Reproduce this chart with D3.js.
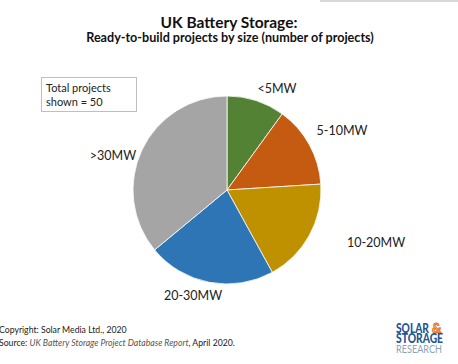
<!DOCTYPE html>
<html><head><meta charset="utf-8">
<script src="https://cdn.jsdelivr.net/npm/d3@7"></script>
<style>body{margin:0;background:#fff}svg{display:block}text{font-family:Lato,"Open Sans",sans-serif}</style>
</head><body>
<svg id="c" width="458" height="364"></svg>
<script>
const categories = ["<5MW","5-10MW","10-20MW","20-30MW",">30MW"];
const values = [5,7,9,11,18];
const colors = ["#548235","#C55A11","#BF9000","#2E75B6","#A5A5A5"];
const labelPos = [[277,89],[342,131],[376,243],[193,296],[113,156]];

const svg = d3.select("#c");
svg.append("rect").attr("x",320).attr("y",0).attr("width",138).attr("height",2).attr("fill","#d8d8d8");

svg.append("text").attr("x",229).attr("y",28).attr("text-anchor","middle")
  .attr("font-size",15.5).attr("font-weight","bold").attr("fill","#111").text("UK Battery Storage:");
svg.append("text").attr("x",230).attr("y",42).attr("text-anchor","middle")
  .attr("font-size",12.6).attr("font-weight","bold").attr("fill","#111").text("Ready-to-build projects by size (number of projects)");

const cx=227, cy=190, r=94;
const pie = d3.pie().sort(null).value(d=>d)(values);
const arc = d3.arc().innerRadius(0).outerRadius(r);
const g = svg.append("g").attr("transform",`translate(${cx},${cy})`);
g.selectAll("path").data(pie).join("path").attr("d",arc)
  .attr("fill",(d,i)=>colors[i]).attr("stroke","#fff").attr("stroke-width",0.8);

svg.selectAll("text.lbl").data(categories).join("text").attr("class","lbl")
  .attr("x",(d,i)=>labelPos[i][0]).attr("y",(d,i)=>labelPos[i][1]).attr("dy","0.35em")
  .attr("text-anchor","middle").attr("font-size",12.5).attr("fill","#222").text(d=>d);

svg.append("rect").attr("x",41.5).attr("y",77.5).attr("width",95).attr("height",34)
  .attr("fill","#fff").attr("stroke","#bfbfbf");
svg.append("text").attr("x",46).attr("y",92).attr("font-size",11).attr("fill","#222").text("Total projects");
svg.append("text").attr("x",46).attr("y",106).attr("font-size",11).attr("fill","#222").text("shown = 50");

svg.append("text").attr("x",-1).attr("y",333).attr("font-size",8.7).attr("fill","#222").text("Copyright: Solar Media Ltd., 2020");
const s = svg.append("text").attr("x",-1).attr("y",346).attr("font-size",8.7).attr("fill","#222");
s.append("tspan").text("Source: ");
s.append("tspan").attr("font-style","italic").attr("fill","#555").text("UK Battery Storage Project Database Report");
s.append("tspan").text(", April 2020.");

svg.append("text").attr("x",396).attr("y",333).attr("font-size",12.5).attr("font-weight","900").attr("fill","#1F5592")
  .attr("font-family","'Open Sans',sans-serif").attr("textLength",33).attr("lengthAdjust","spacingAndGlyphs").text("SOLAR");
svg.append("text").attr("x",432).attr("y",333).attr("font-size",13).attr("font-weight","bold").attr("fill","none")
  .attr("stroke","#E8732A").attr("stroke-width",1.1).text("&");
svg.append("text").attr("x",396).attr("y",343).attr("font-size",12.5).attr("font-weight","900").attr("fill","#1F5592")
  .attr("font-family","'Open Sans',sans-serif").attr("textLength",47).attr("lengthAdjust","spacingAndGlyphs").text("STORAGE");
svg.append("text").attr("x",396).attr("y",353).attr("font-size",10.5).attr("fill","#8FA3BC")
  .attr("textLength",46).attr("lengthAdjust","spacingAndGlyphs").text("RESEARCH");
</script>
</body></html>
